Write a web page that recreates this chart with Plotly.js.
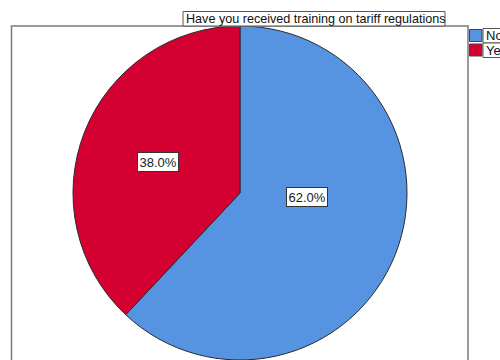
<!DOCTYPE html>
<html>
<head>
<meta charset="utf-8">
<script src="https://cdn.plot.ly/plotly-3.0.1.min.js"></script>
<style>html,body{margin:0;padding:0;overflow:hidden;background:#fff}#chart{width:500px;height:360px}</style>
</head>
<body>
<div id="chart"></div>
<script>
const categories = ['No', 'Yes'];
const values = [62, 38];
const colors = ['#5694E2', '#D50032'];
const titleText = 'Have you received training on tariff regulations';

const W = 500, H = 360;
const px = x => x / W;
const py = y => 1 - y / H;
const total = values.reduce((a, b) => a + b, 0);
const pctText = values.map(v => (v / total * 100).toFixed(1) + '%');

// label positions (layout only)
const labelPos = [[307, 197], [158, 162]];

const shapes = [
  // outer frame
  {type: 'rect', xref: 'paper', yref: 'paper', x0: px(11.5), x1: px(468), y0: py(26), y1: py(380),
   line: {color: '#7a7a7a', width: 1.5}, fillcolor: 'rgba(0,0,0,0)'},
  // title box
  {type: 'rect', xref: 'paper', yref: 'paper', x0: px(183), x1: px(445), y0: py(11.5), y1: py(26),
   line: {color: '#555', width: 1}, fillcolor: '#fff'}
];
const annotations = [
  {xref: 'paper', yref: 'paper', x: px(183.5), y: py(19), xanchor: 'left', yanchor: 'middle',
   text: titleText, showarrow: false, font: {size: 12.6, color: '#111'}}
];
categories.forEach((c, i) => {
  const top = 28.5 + i * 14.5;
  shapes.push({type: 'rect', xref: 'paper', yref: 'paper', x0: px(469.5), x1: px(482), y0: py(top + 1), y1: py(top + 13),
    line: {color: '#444', width: 1}, fillcolor: colors[i]});
  shapes.push({type: 'rect', xref: 'paper', yref: 'paper', x0: px(483), x1: px(530), y0: py(top), y1: py(top + 14.5),
    line: {color: '#555', width: 1}, fillcolor: '#fff'});
  annotations.push({xref: 'paper', yref: 'paper', x: px(484), y: py(top + 7.5), xanchor: 'left', yanchor: 'middle',
    text: c, showarrow: false, font: {size: 13, color: '#111'}});
  annotations.push({xref: 'paper', yref: 'paper', x: px(labelPos[i][0]), y: py(labelPos[i][1]),
    xanchor: 'center', yanchor: 'middle', text: pctText[i], showarrow: false,
    font: {size: 13, color: '#222'}, bgcolor: '#fff', bordercolor: '#333', borderwidth: 1, borderpad: 1.5});
});

const trace = {
  type: 'pie', labels: categories, values: values, sort: false, direction: 'clockwise', rotation: 0,
  marker: {colors: colors, line: {color: '#2a2a2a', width: 1}},
  textinfo: 'none', hoverinfo: 'none', showlegend: false,
  domain: {x: [px(71), px(409)], y: [0, py(26)]}
};

Plotly.newPlot('chart', [trace], {
  width: W, height: H, margin: {l: 0, r: 0, t: 0, b: 0},
  paper_bgcolor: '#fff', plot_bgcolor: '#fff',
  font: {family: 'Liberation Sans, Arial, sans-serif', size: 12},
  showlegend: false, shapes: shapes, annotations: annotations
}, {displayModeBar: false, staticPlot: true});
</script>
</body>
</html>
